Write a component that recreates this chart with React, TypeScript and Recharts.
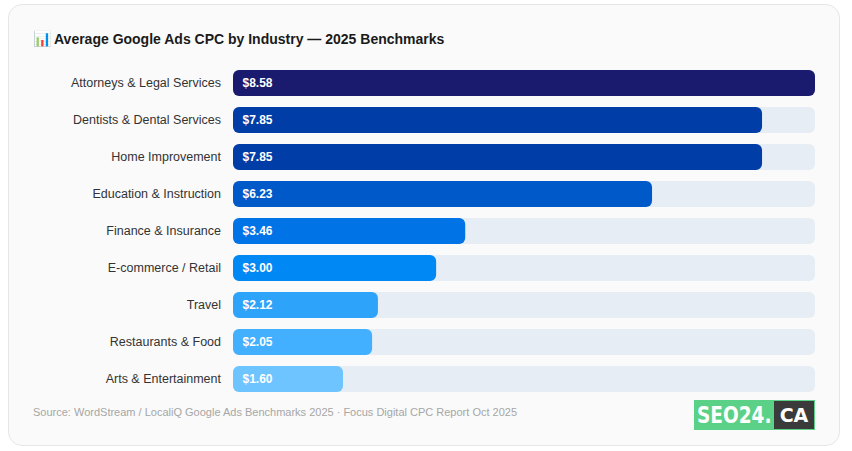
import React from "react";
import { BarChart, Bar, XAxis, YAxis, Cell, LabelList } from "recharts";

const categories = [
  "Attorneys & Legal Services",
  "Dentists & Dental Services",
  "Home Improvement",
  "Education & Instruction",
  "Finance & Insurance",
  "E-commerce / Retail",
  "Travel",
  "Restaurants & Food",
  "Arts & Entertainment",
];
const cpcLabels = ["$8.58", "$7.85", "$7.85", "$6.23", "$3.46", "$3.00", "$2.12", "$2.05", "$1.60"];
const barPercent = [100, 90.9, 90.9, 72, 39.9, 34.9, 24.9, 23.9, 18.9];
const barColors = ["#1a1a6e", "#003da6", "#003da6", "#0059c9", "#0073e6", "#0088f5", "#2ea3fa", "#42b0ff", "#6dc4ff"];

const rows = categories.map((name, i) => ({ name, pct: barPercent[i], label: cpcLabels[i] }));
const FONT = "'Liberation Sans', Arial, sans-serif";

export default function App() {
  return (
    <div style={{ position: "absolute", left: 0, top: 0, width: 852, height: 451, fontFamily: FONT, overflow: "hidden", background: "#fff" }}>
      <div style={{ position: "absolute", left: 8, top: 4, width: 830, height: 440, background: "#fafafa", border: "1px solid #e6e6e6", borderRadius: 14 }} />
      <div style={{ position: "absolute", left: 33, top: 30, fontSize: 14, fontWeight: 700, color: "#1a1a1a", lineHeight: "18px", whiteSpace: "nowrap" }}>
        <span style={{ display: "inline-block", width: 21, fontSize: 15 }}>📊</span>Average Google Ads CPC by Industry — 2025 Benchmarks
      </div>
      <div style={{ position: "absolute", left: 0, top: 64 }}>
        <BarChart
          width={815}
          height={333}
          data={rows}
          layout="vertical"
          margin={{ top: 0, right: 0, bottom: 0, left: 0 }}
          barSize={26}
        >
          <XAxis type="number" domain={[0, 100]} hide />
          <YAxis
            type="category"
            dataKey="name"
            width={233}
            axisLine={false}
            tickLine={false}
            tickSize={0}
            tickMargin={12}
            interval={0}
            tick={{ fontSize: 12.5, fill: "#333333", fontFamily: FONT }}
          />
          <Bar dataKey="pct" radius={6} background={{ fill: "#e6edf5", radius: 6 }} isAnimationActive={false}>
            {rows.map((r, i) => (
              <Cell key={r.name} fill={barColors[i]} />
            ))}
            <LabelList dataKey="label" position="insideLeft" offset={9.5} fill="#ffffff" style={{ fontSize: 12, fontWeight: 700, fontFamily: FONT }} />
          </Bar>
        </BarChart>
      </div>
      <div style={{ position: "absolute", left: 33, top: 405, fontSize: 11, fontWeight: 400, color: "#a6a6a6", lineHeight: "14px", whiteSpace: "nowrap" }}>
        Source: WordStream / LocaliQ Google Ads Benchmarks 2025 · Focus Digital CPC Report Oct 2025
      </div>
      <div style={{ position: "absolute", left: 694, top: 400, width: 121, height: 30, background: "#5ad186", fontFamily: "'DejaVu Sans', sans-serif", fontWeight: 700, fontSize: 19, color: "#fff", overflow: "hidden" }}>
        <span style={{ position: "absolute", left: 3, top: 0, lineHeight: "30px", fontSize: 18.5, transform: "scaleY(1.25)", transformOrigin: "center" }}>SEO24.</span>
        <span style={{ position: "absolute", left: 80, top: 1, width: 40, height: 28, background: "#3a3a3a", textAlign: "center", lineHeight: "28px" }}>CA</span>
      </div>
    </div>
  );
}
